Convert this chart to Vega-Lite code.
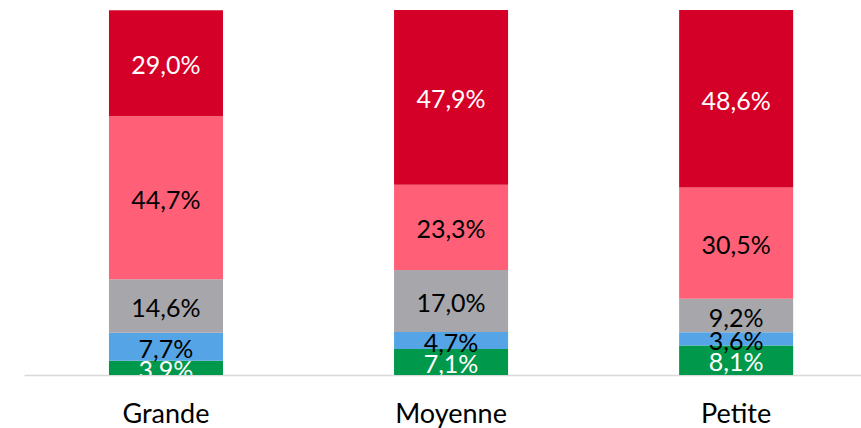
{
  "$schema": "https://vega.github.io/schema/vega-lite/v6.json",
  "width": 837,
  "height": 365,
  "autosize": {"type": "none"},
  "padding": {"left": 24, "top": 10, "right": 0, "bottom": 53},
  "config": {"view": {"stroke": null}, "font": "Lato"},
  "data": {
    "values": [
      {"taille": "Grande", "segment": "s1", "rang": 1, "valeur": 3.9},
      {"taille": "Grande", "segment": "s2", "rang": 2, "valeur": 7.7},
      {"taille": "Grande", "segment": "s3", "rang": 3, "valeur": 14.6},
      {"taille": "Grande", "segment": "s4", "rang": 4, "valeur": 44.7},
      {"taille": "Grande", "segment": "s5", "rang": 5, "valeur": 29.0},
      {"taille": "Moyenne", "segment": "s1", "rang": 1, "valeur": 7.1},
      {"taille": "Moyenne", "segment": "s2", "rang": 2, "valeur": 4.7},
      {"taille": "Moyenne", "segment": "s3", "rang": 3, "valeur": 17.0},
      {"taille": "Moyenne", "segment": "s4", "rang": 4, "valeur": 23.3},
      {"taille": "Moyenne", "segment": "s5", "rang": 5, "valeur": 47.9},
      {"taille": "Petite", "segment": "s1", "rang": 1, "valeur": 8.1},
      {"taille": "Petite", "segment": "s2", "rang": 2, "valeur": 3.6},
      {"taille": "Petite", "segment": "s3", "rang": 3, "valeur": 9.2},
      {"taille": "Petite", "segment": "s4", "rang": 4, "valeur": 30.5},
      {"taille": "Petite", "segment": "s5", "rang": 5, "valeur": 48.6}
    ]
  },
  "transform": [
    {"stack": "valeur", "groupby": ["taille"], "sort": [{"field": "rang", "order": "ascending"}], "as": ["v0", "v1"]},
    {"calculate": "(datum.v0 + datum.v1) / 2", "as": "vmid"},
    {"calculate": "replace(format(datum.valeur, '.1f'), '.', ',') + '%'", "as": "etiquette"}
  ],
  "encoding": {
    "x": {
      "field": "taille",
      "type": "nominal",
      "sort": ["Grande", "Moyenne", "Petite"],
      "scale": {"paddingInner": 0.6, "paddingOuter": 0.268, "align": 0.556},
      "axis": {
        "title": null,
        "labelAngle": 0,
        "ticks": false,
        "tickSize": 0,
        "labelPadding": 26,
        "labelFontSize": 27,
        "labelColor": "#000000",
        "labelFont": "Lato",
        "domainColor": "#d9d9d9",
        "domainWidth": 1.5
      }
    }
  },
  "layer": [
    {
      "mark": {"type": "bar"},
      "encoding": {
        "y": {"field": "v0", "type": "quantitative", "scale": {"domain": [0, 100], "nice": false}, "axis": null},
        "y2": {"field": "v1"},
        "color": {
          "field": "segment",
          "type": "nominal",
          "scale": {"domain": ["s1", "s2", "s3", "s4", "s5"], "range": ["#00984A", "#55A5E6", "#A6A6AB", "#FF6077", "#D50027"]},
          "legend": null
        }
      }
    },
    {
      "mark": {"type": "text", "fontSize": 25, "font": "Lato", "baseline": "middle", "align": "center", "clip": true, "dy": 3},
      "encoding": {
        "y": {"field": "vmid", "type": "quantitative", "scale": {"domain": [0, 100], "nice": false}, "axis": null},
        "text": {"field": "etiquette"},
        "color": {
          "condition": {"test": "datum.segment === 's1' || datum.segment === 's5'", "value": "#ffffff"},
          "value": "#000000"
        }
      }
    }
  ]
}
